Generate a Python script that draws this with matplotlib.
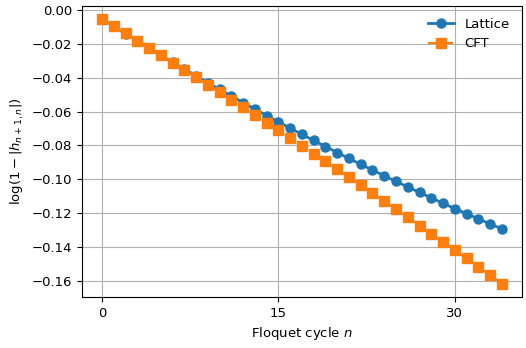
import matplotlib
matplotlib.use("Agg")
import matplotlib.pyplot as plt

n_vals = list(range(35))
lattice = [-0.0055, -0.00984, -0.01413, -0.01838, -0.02259, -0.02676, -0.03088, -0.03496,
           -0.03900, -0.04300, -0.04696, -0.05087, -0.05474, -0.05857, -0.06235, -0.0661,
           -0.0698, -0.07346, -0.07707, -0.08065, -0.08418, -0.08767, -0.09112, -0.09452,
           -0.09789, -0.10121, -0.10449, -0.10772, -0.11091, -0.1141, -0.1172, -0.12024,
           -0.12327, -0.12625, -0.12919]
cft = [-0.0055, -0.00972, -0.01395, -0.01821, -0.0225, -0.0268, -0.03113, -0.03548,
       -0.03986, -0.04425, -0.04867, -0.05311, -0.05758, -0.06206, -0.06657, -0.0711,
       -0.07566, -0.08023, -0.08483, -0.08946, -0.0941, -0.09877, -0.10346, -0.10817,
       -0.1129, -0.11766, -0.12244, -0.12725, -0.13207, -0.1369, -0.14179, -0.14668,
       -0.1516, -0.15654, -0.1615]
x_ticks = [0, 15, 30]

plt.rcParams['font.size'] = 9.5
fig = plt.figure(figsize=(5.26, 3.48), dpi=100)
ax = fig.add_axes([0.156, 0.147, 0.836, 0.836])
ax.plot(n_vals, lattice, '-o', color='#1f77b4', lw=2, ms=6.5, label='Lattice')
ax.plot(n_vals, cft, 's', ls=(0, (5, 2)), color='#ff7f0e', lw=1.5, ms=6.5, label='CFT')
ax.set_xticks(x_ticks)
ax.grid(True, color='#b0b0b0', lw=0.8)
ax.set_axisbelow(True)
ax.set_xlabel(r'Floquet cycle $n$')
ax.set_ylabel(r'$\log(1-|h_{n+1,n}|)$')
ax.legend(loc='upper right', frameon=False)
fig.savefig('out.png', dpi=100)
